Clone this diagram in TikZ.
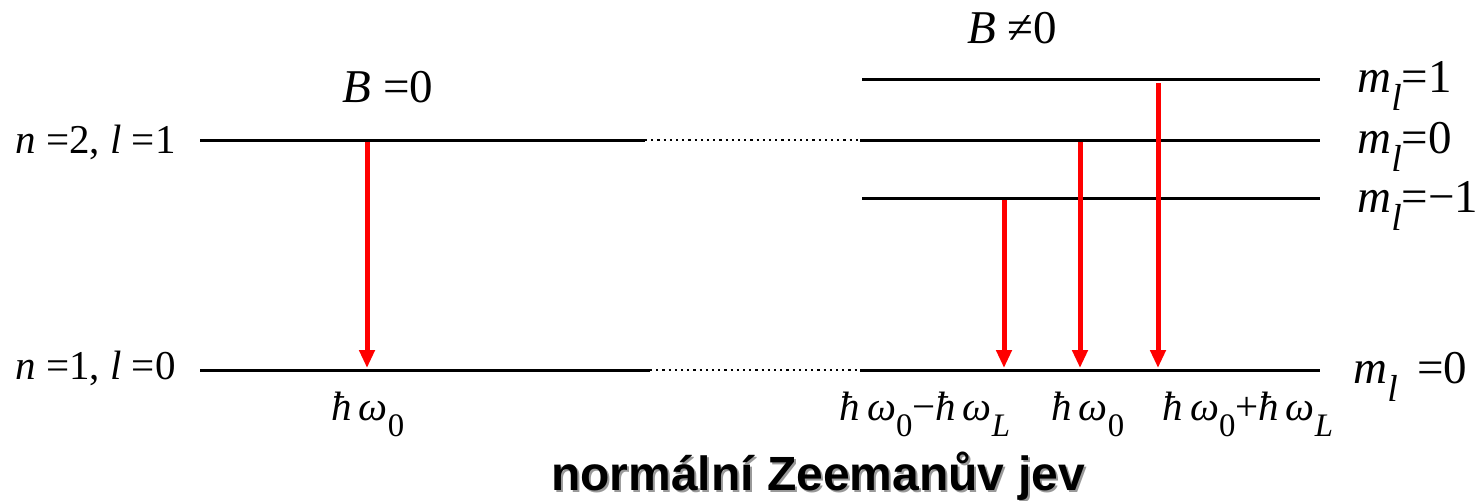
\documentclass[tikz,border=0pt]{standalone}
\usepackage{fontspec}
\setmainfont{Liberation Serif}
\newfontfamily\titlefont{Liberation Sans}
\usetikzlibrary{arrows.meta}
\newcommand\lowsub[1]{\raisebox{-0.4em}{\fontsize{0.8em}{1em}\selectfont #1}}
\newcommand\hw{\textit{ħ}\,\textit{ω}}
\begin{document}
\begin{tikzpicture}[x=0.5pt,y=-0.5pt,
  level/.style={line width=1.5pt,black},
  dots/.style={line width=1.1pt,dotted,black},
  trans/.style={red,line width=2.5pt,-{Triangle[length=9pt,width=7.5pt]}},
  lab/.style={inner sep=0pt,font=\fontsize{20.5}{24}\selectfont},
  big/.style={inner sep=0pt,font=\fontsize{23.5}{27}\selectfont},
  ttl/.style={inner sep=0pt,font=\titlefont\bfseries\fontsize{24}{28}\selectfont}]
\useasboundingbox (0,0) rectangle (1484,500);
% levels
\coordinate (u0) at (200,140); \coordinate (u1) at (645,140);
\coordinate (u2) at (860,140); \coordinate (u3) at (1320,140);
\coordinate (d0) at (200,370); \coordinate (d1) at (650,370);
\coordinate (d2) at (860,370); \coordinate (d3) at (1320,370);
\coordinate (p0) at (862,79); \coordinate (p1) at (1320,79);
\coordinate (m0) at (862,198); \coordinate (m1) at (1320,198);
\draw[level] (u0) -- (u1); \draw[dots] (u1) -- (u2); \draw[level] (u2) -- (u3);
\draw[level] (d0) -- (d1); \draw[dots] (d1) -- (d2); \draw[level] (d2) -- (d3);
\draw[level] (p0) -- (p1);
\draw[level] (m0) -- (m1);
% transitions
\coordinate (a1) at (367,142); \coordinate (b1) at (367,368);
\coordinate (a2) at (1004,200); \coordinate (b2) at (1004,368);
\coordinate (a3) at (1080,142); \coordinate (b3) at (1080,368);
\coordinate (a4) at (1158,83); \coordinate (b4) at (1158,368);
\draw[trans] (a1) -- (b1);
\draw[trans] (a2) -- (b2);
\draw[trans] (a3) -- (b3);
\draw[trans] (a4) -- (b4);
% labels
\node[lab,anchor=base west] (lu) at (15,153) {\textit{n} =2, \textit{l} =1};
\node[lab,anchor=base west] (ld) at (15,379) {\textit{n} =1, \textit{l} =0};
\node[big,anchor=base] (b0) at (388,102) {\textit{B} =0};
\node[big,anchor=base] (bn) at (1012,43) {\textit{B} ≠0};
\node[big,anchor=base west] (r1) at (1357,92) {\textit{m}\lowsub{\textit{l}}=1};
\node[big,anchor=base west] (r2) at (1357,153) {\textit{m}\lowsub{\textit{l}}=0};
\node[big,anchor=base west] (r3) at (1357,212) {\textit{m}\lowsub{\textit{l}}=−1};
\node[big,anchor=base west] (r4) at (1353,383) {\textit{m}\lowsub{\textit{l}}\, =0};
\node[lab,anchor=base] (e1) at (368,420) {\hw\lowsub{0}};
\node[lab,anchor=base] (e2) at (925,420) {\hw\lowsub{0}−\hw\lowsub{\textit{L}}};
\node[lab,anchor=base] (e3) at (1088,420) {\hw\lowsub{0}};
\node[lab,anchor=base] (e4) at (1248,420) {\hw\lowsub{0}+\hw\lowsub{\textit{L}}};
\node[ttl,text=black!40] (shadow) at (820,478) {normální Zeemanův jev};
\node[ttl] (title) at (818,476) {normální Zeemanův jev};
\end{tikzpicture}
\end{document}
